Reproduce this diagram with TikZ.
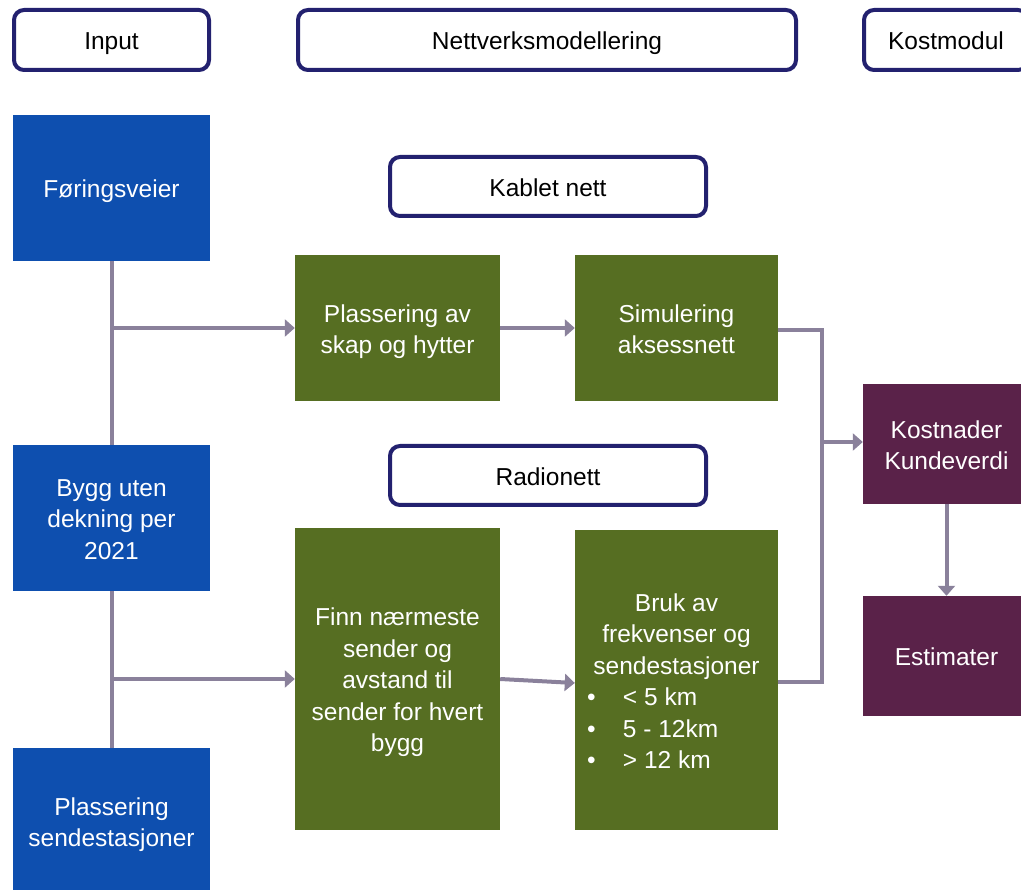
\documentclass[tikz,border=0pt]{standalone}
\usepackage{fontspec}
\setmainfont{Liberation Sans}
\usetikzlibrary{arrows.meta}
\definecolor{navy}{HTML}{23216F}
\definecolor{inblue}{HTML}{0E4FAF}
\definecolor{nwgreen}{HTML}{566E22}
\definecolor{kpurple}{HTML}{5A2249}
\definecolor{conn}{HTML}{8A819B}
\newcommand\tbox[1]{\raisebox{0pt}[\dimexpr\height+7pt\relax][\depth]{\begin{tabular}{@{}c@{}}#1\end{tabular}}}
\newcommand\bitem[1]{\makebox[203pt][l]{\hspace*{12pt}\makebox[36pt][l]{•}#1}}
\tikzset{
  hdr/.style={draw=navy, line width=4pt, rounded corners=10pt, fill=white, text=black, minimum height=60pt, inner sep=0pt, font=\fontsize{24.5}{31.5}\selectfont},
  box/.style={text=white, inner sep=0pt, font=\fontsize{24.5}{31.5}\selectfont},
  inbox/.style={box, fill=inblue, minimum width=197pt, minimum height=146pt},
  gbox/.style={box, fill=nwgreen},
  pbox/.style={box, fill=kpurple, minimum width=167pt, minimum height=120pt},
  line/.style={draw=conn, line width=4pt},
  arr/.style={line, -{Triangle[length=10pt,width=17pt]}}
}
\begin{document}
\begin{tikzpicture}[x=1pt,y=-1pt]
\useasboundingbox (0,0) rectangle (1021,890);
\clip (0,0) rectangle (1021,890);
% headers
\node[hdr, minimum width=195pt] (hin) at (111.5,40) {\tbox{Input}};
\node[hdr, minimum width=498pt] (hnet) at (547,40) {\tbox{Nettverksmodellering}};
\node[hdr, minimum width=164pt] (hkost) at (946,40) {\tbox{Kostmodul}};
\node[hdr, minimum width=316pt, minimum height=59pt] (hkab) at (548,186.5) {\tbox{Kablet nett}};
\node[hdr, minimum width=316pt, minimum height=59pt] (hrad) at (548,475.5) {\tbox{Radionett}};
% input boxes
\node[inbox] (fs) at (111.5,188) {\tbox{Føringsveier}};
\node[inbox] (bygg) at (111.5,518) {\tbox{Bygg uten\\dekning per\\2021}};
\node[inbox] (send) at (111.5,821) {\tbox{Plassering\\sendestasjoner}};
% green boxes
\node[gbox, minimum width=205pt, minimum height=146pt] (plass) at (397.5,328) {\tbox{Plassering av\\skap og hytter}};
\node[gbox, minimum width=203pt, minimum height=146pt] (sim) at (676.5,328) {\tbox{Simulering\\aksessnett}};
\node[gbox, minimum width=205pt, minimum height=302pt] (finn) at (397.5,679) {\tbox{Finn nærmeste\\sender og\\avstand til\\sender for hvert\\bygg}};
\node[gbox, minimum width=203pt, minimum height=300pt] (bruk) at (676.5,680) {\tbox{Bruk av\\frekvenser og\\sendestasjoner\\
\bitem{< 5 km}\\ \bitem{5 - 12km}\\ \bitem{> 12 km}}};
% purple boxes
\node[pbox] (kost) at (946.5,444) {\tbox{Kostnader\\Kundeverdi}};
\node[pbox] (est) at (946.5,656) {\tbox{Estimater}};
% connectors
\coordinate (bus) at (822,442);
\draw[line] (fs.south) -- (bygg.north);
\draw[line] (bygg.south) -- (send.north);
\draw[arr] (fs.south |- plass.west) -- (plass.west);
\draw[arr] (bygg.south |- finn.west) -- (finn.west);
\draw[arr] (plass.east) -- (sim.west);
\draw[arr] (finn.east) -- ([yshift=-3pt]bruk.west);
\draw[line] ([yshift=-2pt]sim.east) -| (bus);
\draw[line] ([yshift=-2pt]bruk.east) -| (bus);
\draw[arr] (bus) -- (bus -| kost.west);
\draw[arr] (kost.south) -- (est.north);
\end{tikzpicture}
\end{document}
